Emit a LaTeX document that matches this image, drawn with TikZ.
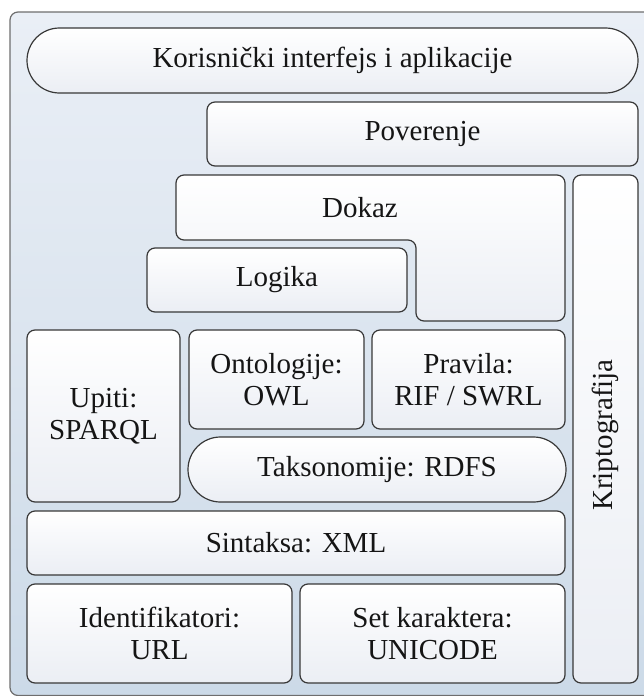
\documentclass[tikz,border=0pt]{standalone}
\usepackage{fontspec}
\setmainfont{Liberation Serif}
\usetikzlibrary{shapes.misc}
\definecolor{frametop}{HTML}{EAEFF6}
\definecolor{framebot}{HTML}{CCDAE8}
\definecolor{framerule}{HTML}{6E6E6E}
\definecolor{boxtop}{HTML}{FFFFFF}
\definecolor{boxbot}{HTML}{EBEEF4}
\definecolor{boxrule}{HTML}{383838}
\definecolor{ink}{HTML}{151515}
\tikzset{
  x=1pt, y=-1pt,
  layer/.style={draw=boxrule, line width=1.2pt, top color=boxtop, bottom color=boxbot,
    rectangle, rounded corners=8pt, inner sep=0pt, align=center, text=ink,
    font=\fontsize{29}{32}\selectfont},
  pill/.style={layer, rounded rectangle, rounded corners=0pt},
  caption/.style={inner sep=0pt, text=ink, font=\fontsize{29}{32}\selectfont},
}
\begin{document}
\begin{tikzpicture}
\useasboundingbox (0,0) rectangle (644,696);
% background panel
\draw[framerule, line width=1.2pt, top color=frametop, bottom color=framebot, rounded corners=8pt]
  (10,12) rectangle (655,695.5);

% top layers
\node[pill, minimum width=611pt, minimum height=65pt] (ui) at (332.5,60.5)
  {Korisnički interfejs i aplikacije};
\node[layer, minimum width=431pt, minimum height=64pt] (trust) at (422.5,134) {Poverenje};

% proof layer (L-shaped)
\draw[draw=boxrule, line width=1.2pt, top color=boxtop, bottom color=boxbot, rounded corners=8pt]
  (176,175) -- (565,175) -- (565,321) -- (416,321) -- (416,240) -- (176,240) -- cycle;
\node[caption] (proof) at (360,207.5) {Dokaz};
\node[layer, minimum width=260pt, minimum height=64pt] (logic) at (277,280) {Logika};

% crypto column
\node[layer, rotate=90, minimum width=508pt, minimum height=65pt] (crypto) at (605.5,429) {};
\node[caption, rotate=90] (cryptotext) at (605.5,435) {Kriptografija};

% middle layers
\node[layer, minimum width=153pt, minimum height=172pt] (query) at (103.5,416) {Upiti:\\SPARQL};
\node[layer, minimum width=175pt, minimum height=99pt] (onto) at (276.5,379.5) {Ontologije:\\OWL};
\node[layer, minimum width=193pt, minimum height=99pt] (rules) at (468.5,379.5) {Pravila:\\RIF / SWRL};
\node[pill, minimum width=378pt, minimum height=65pt] (rdfs) at (377,469.5) {Taksonomije: RDFS};

% bottom layers
\node[layer, minimum width=538pt, minimum height=64pt] (xml) at (296,543) {Sintaksa: XML};
\node[layer, minimum width=265pt, minimum height=99pt] (uri) at (159.5,633.5) {Identifikatori:\\URL};
\node[layer, minimum width=265pt, minimum height=99pt] (unicode) at (432.5,633.5) {Set karaktera:\\UNICODE};
\end{tikzpicture}
\end{document}
